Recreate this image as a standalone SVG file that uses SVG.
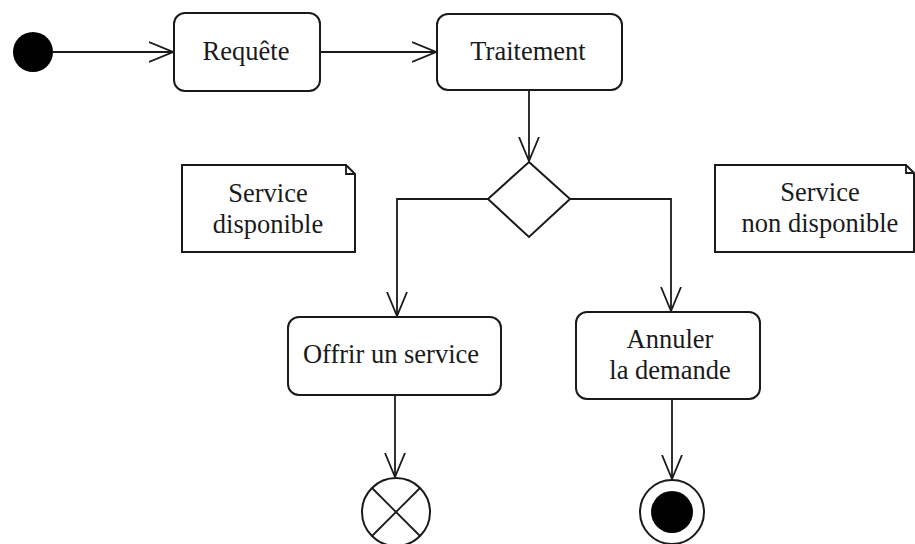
<svg xmlns="http://www.w3.org/2000/svg" width="915" height="544" viewBox="0 0 915 544">
<defs>
<style>
.box{fill:#fff;stroke:#1a1a1a;stroke-width:2}
.ln{fill:none;stroke:#1a1a1a;stroke-width:1.8}
.txt{font-family:"Liberation Serif","Times New Roman",serif;font-size:26.5px;fill:#1a1a1a;text-anchor:middle}
</style>
<marker id="arr" markerWidth="26" markerHeight="22" refX="24" refY="11" orient="auto" markerUnits="userSpaceOnUse">
<path d="M0,1 L24,11 L0,21" fill="none" stroke="#1a1a1a" stroke-width="1.8"/>
</marker>
</defs>
<rect width="915" height="544" fill="#fff"/>
<g id="connectors">
<line class="ln" x1="53" y1="52" x2="173" y2="52" marker-end="url(#arr)"/>
<line class="ln" x1="320" y1="52" x2="436" y2="52" marker-end="url(#arr)"/>
<line class="ln" x1="529" y1="90" x2="529" y2="161" marker-end="url(#arr)"/>
<polyline class="ln" points="488,199 397,199 397,316" marker-end="url(#arr)"/>
<polyline class="ln" points="570,199 671,199 671,311" marker-end="url(#arr)"/>
<line class="ln" x1="395" y1="395" x2="395" y2="477" marker-end="url(#arr)"/>
<line class="ln" x1="672" y1="399" x2="672" y2="479" marker-end="url(#arr)"/>
</g>
<g id="start"><circle cx="33" cy="52" r="20" fill="#000"/></g>
<g id="requete">
<rect class="box" x="174" y="13" width="146" height="78" rx="11"/>
<text class="txt" x="246" y="60">Requête</text>
</g>
<g id="traitement">
<rect class="box" x="437" y="14" width="185" height="76" rx="11"/>
<text class="txt" x="528" y="60">Traitement</text>
</g>
<g id="decision">
<polygon class="box" points="529,162 570,199 529,237 488,199"/>
</g>
<g id="note1">
<path class="box" d="M182,165 L346,165 L355,174 L355,252 L182,252 Z"/>
<path class="ln" d="M346,165 L346,174 L355,174"/>
<text class="txt" x="268" y="202">Service</text>
<text class="txt" x="268" y="233">disponible</text>
</g>
<g id="note2">
<path class="box" d="M715,165 L906,165 L914,173 L914,252 L715,252 Z"/>
<path class="ln" d="M906,165 L906,173 L914,173"/>
<text class="txt" x="820" y="201">Service</text>
<text class="txt" x="820" y="232">non disponible</text>
</g>
<g id="offrir">
<rect class="box" x="288" y="317" width="213" height="78" rx="11"/>
<text class="txt" x="391" y="363">Offrir un service</text>
</g>
<g id="annuler">
<rect class="box" x="576" y="312" width="184" height="87" rx="11"/>
<text class="txt" x="670" y="348">Annuler</text>
<text class="txt" x="670" y="379">la demande</text>
</g>
<g id="flowfinal">
<circle class="box" cx="396" cy="512" r="34"/>
<line class="ln" x1="372" y1="488" x2="420" y2="536"/>
<line class="ln" x1="420" y1="488" x2="372" y2="536"/>
</g>
<g id="final">
<circle class="box" cx="672" cy="512" r="32"/>
<circle cx="672" cy="512" r="21" fill="#000"/>
</g>
</svg>
